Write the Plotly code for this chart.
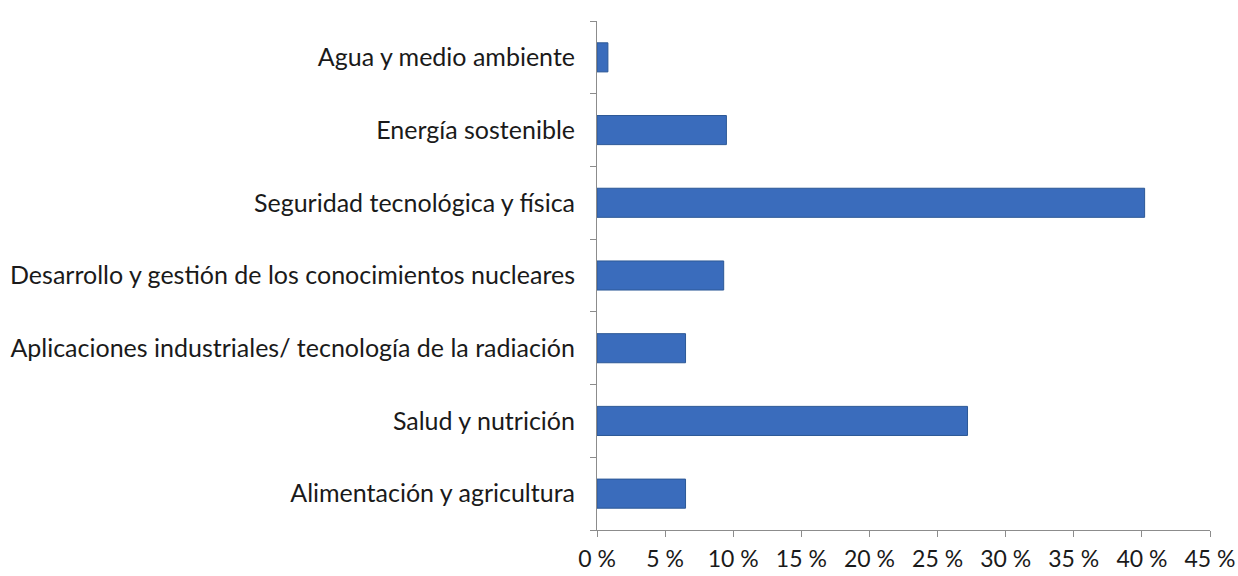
import plotly.graph_objects as go

categorias = [
    "Alimentación y agricultura",
    "Salud y nutrición",
    "Aplicaciones industriales/ tecnología de la radiación",
    "Desarrollo y gestión de los conocimientos nucleares",
    "Seguridad tecnológica y física",
    "Energía sostenible",
    "Agua y medio ambiente",
]
porcentajes = [6.5, 27.2, 6.5, 9.3, 40.2, 9.5, 0.8]
x_ticks = [0, 5, 10, 15, 20, 25, 30, 35, 40, 45]
x_labels = [f"{v} %" for v in x_ticks]

fig = go.Figure(
    go.Bar(
        y=categorias,
        x=porcentajes,
        orientation="h",
        marker=dict(color="#3A6CBC", line=dict(color="#2C5896", width=1)),
        width=0.4,
    )
)

fig.update_layout(
    width=1238,
    height=576,
    plot_bgcolor="white",
    paper_bgcolor="white",
    showlegend=False,
    font=dict(family="Lato, Open Sans, sans-serif", size=25, color="#1a1a1a"),
    margin=dict(l=597, r=28, t=21, b=46, autoexpand=False),
)

fig.update_xaxes(
    range=[0, 45],
    tickmode="array",
    tickvals=x_ticks,
    ticktext=x_labels,
    ticks="outside",
    ticklen=6,
    tickcolor="#8c8c8c",
    showline=True,
    linecolor="#8c8c8c",
    linewidth=1,
    showgrid=False,
    zeroline=False,
    ticklabelstandoff=2,
    tickfont=dict(size=23),
)

fig.update_yaxes(
    type="category",
    tickson="boundaries",
    ticks="outside",
    ticklen=6,
    tickcolor="#8c8c8c",
    showline=True,
    linecolor="#8c8c8c",
    linewidth=1,
    showgrid=False,
    ticklabelstandoff=16,
    tickfont=dict(size=25),
)

# drop the default body margin so the figure fills the window exactly
fig.write_html(
    "out.html",
    config={"displayModeBar": False},
    post_script="document.body.style.margin='0';document.body.style.overflow='hidden';",
)
